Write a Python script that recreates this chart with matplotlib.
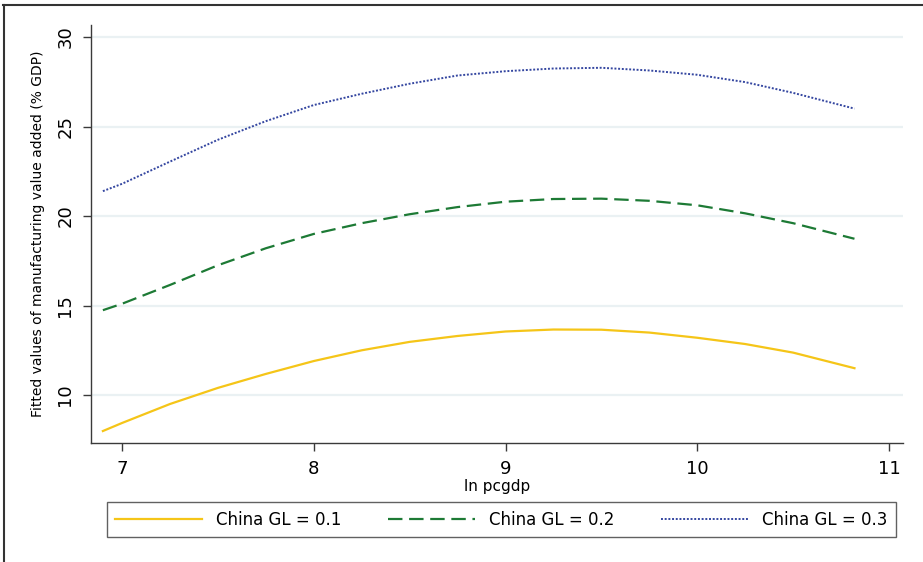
import matplotlib
matplotlib.use("Agg")
import matplotlib.pyplot as plt
from matplotlib.lines import Line2D

# values
ln_pcgdp = [6.9, 7.0, 7.25, 7.5, 7.75, 8.0, 8.25, 8.5, 8.75, 9.0,
            9.25, 9.5, 9.75, 10.0, 10.25, 10.5, 10.82]
gl_01 = [7.99, 8.44, 9.5, 10.4, 11.18, 11.9, 12.5, 12.97, 13.3, 13.55,
         13.66, 13.65, 13.49, 13.2, 12.85, 12.37, 11.5]
gl_02 = [14.74, 15.1, 16.15, 17.25, 18.2, 19.0, 19.6, 20.1, 20.5, 20.8,
         20.95, 20.97, 20.85, 20.6, 20.15, 19.6, 18.73]
gl_03 = [21.39, 21.8, 23.04, 24.26, 25.3, 26.2, 26.83, 27.39, 27.85, 28.09,
         28.24, 28.28, 28.13, 27.89, 27.48, 26.88, 26.0]

labels = ["China GL = 0.1", "China GL = 0.2", "China GL = 0.3"]
x_ticks = [7, 8, 9, 10, 11]
y_ticks = [10, 15, 20, 25, 30]

axis_col = "#3a3a3a"

fig = plt.figure(figsize=(9.23, 5.62), dpi=100)
ax = fig.add_axes([0.0986, 0.2117, 0.8797, 0.7438])

for yt in y_ticks:
    ax.axhline(yt, color="#eaf1f3", lw=1.6, zorder=0)

ax.plot(ln_pcgdp, gl_01, color="#f5c518", lw=1.6, label=labels[0])
ax.plot(ln_pcgdp, gl_02, color="#1d7a35", lw=1.6, ls=(0, (6.5, 3)), label=labels[1])
ax.plot(ln_pcgdp, gl_03, color="#3446a0", lw=1.4, ls=(0, (1, 0.9)), label=labels[2])

ax.set_xlim(6.838, 11.073)
ax.set_ylim(7.32, 30.67)
ax.set_xticks(x_ticks)
ax.set_yticks(y_ticks)
ax.tick_params(axis="x", labelsize=13, length=6, width=1, color=axis_col, pad=6)
ax.tick_params(axis="y", labelsize=13, length=6, width=1, color=axis_col, pad=6)
for lab in ax.get_yticklabels():
    lab.set_rotation(90)
    lab.set_va("center")

for side in ["top", "right"]:
    ax.spines[side].set_visible(False)
for side in ["left", "bottom"]:
    ax.spines[side].set_color(axis_col)
    ax.spines[side].set_linewidth(1)

ax.set_xlabel("ln pcgdp", fontsize=11, labelpad=1)
ax.set_ylabel("Fitted values of manufacturing value added (% GDP)", fontsize=10, labelpad=8)

leg = fig.legend(loc="lower left", bbox_to_anchor=(0.116, 0.0445),
                 ncol=3, fontsize=12, frameon=True, fancybox=False,
                 handlelength=5.2, handletextpad=0.85, columnspacing=2.8,
                 borderaxespad=0, borderpad=0.5)
leg.get_frame().set_edgecolor(axis_col)
leg.get_frame().set_linewidth(1)

# outer graph border (top and left edges visible)
fig.add_artist(Line2D([0.003, 1.0], [0.991, 0.991], color="#333333", lw=1.5))
fig.add_artist(Line2D([0.004, 0.004], [0.0, 0.991], color="#333333", lw=1.5))

fig.savefig("out.png", dpi=100)
